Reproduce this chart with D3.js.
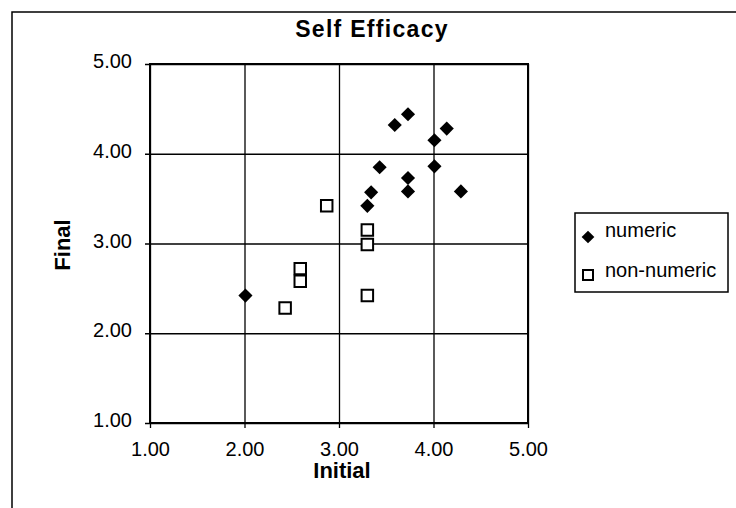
<!DOCTYPE html>
<html>
<head>
<meta charset="utf-8">
<script src="https://cdn.jsdelivr.net/npm/d3@7"></script>
<style>
  html, body { margin: 0; padding: 0; background: #fff; }
  svg { display: block; font-family: "Liberation Sans", Arial, sans-serif; }
  .grid line { stroke: #000; stroke-width: 1.3; }
  .grid text { fill: #000; font-size: 20px; }
  .grid .domain { display: none; }
</style>
</head>
<body>
<div class="d3-scatter"></div>
<script>
// values
var tickValues = [1, 2, 3, 4, 5];
var seriesNames = ['numeric', 'non-numeric'];

var numericInitial = [3.59, 3.73, 4.14, 4.01, 4.01, 3.43, 3.73, 3.73, 4.29, 3.34, 3.30, 2.01];
var numericFinal   = [4.32, 4.44, 4.28, 4.15, 3.86, 3.85, 3.73, 3.58, 3.58, 3.57, 3.42, 2.42];

var nonNumericInitial = [2.87, 3.30, 3.30, 2.59, 2.59, 2.43, 3.30];
var nonNumericFinal   = [3.42, 3.15, 2.99, 2.72, 2.58, 2.28, 2.42];

var margins = { top: 64, left: 150 };
var width = 378;
var height = 359;

var svg = d3.select('.d3-scatter').append('svg')
  .attr('width', 736)
  .attr('height', 508);

// outer chart frame (only top and left edges show in the scan)
svg.append('path')
  .attr('d', 'M12,508 L12,12 L736,12')
  .attr('fill', 'none')
  .attr('stroke', '#000')
  .attr('stroke-width', 1.5);

svg.append('text')
  .attr('x', 372)
  .attr('y', 37)
  .attr('text-anchor', 'middle')
  .style('font-size', '23px')
  .style('font-weight', 'bold')
  .style('letter-spacing', '1.3px')
  .text('Self Efficacy');

var x = d3.scaleLinear().domain([1, 5]).range([0, width]);
var y = d3.scaleLinear().domain([1, 5]).range([height, 0]);
var fmt = d3.format('.2f');

var graph = svg.append('g')
  .attr('transform', 'translate(' + margins.left + ',' + margins.top + ')');

// gridlines double as tick marks, poking 5px outside the plot
var xAxis = d3.axisBottom(x).tickValues(tickValues).tickFormat(fmt)
  .tickSize(height + 5).tickPadding(14);
var yAxis = d3.axisLeft(y).tickValues(tickValues).tickFormat(fmt)
  .tickSize(width + 5).tickPadding(13);

graph.append('g').attr('class', 'grid x-grid').call(xAxis);
graph.append('g').attr('class', 'grid y-grid')
  .attr('transform', 'translate(' + width + ',0)')
  .call(yAxis)
  .selectAll('text').attr('dy', '0.18em');

graph.append('rect')
  .attr('width', width)
  .attr('height', height)
  .attr('fill', 'none')
  .attr('stroke', '#000')
  .attr('stroke-width', 2);

var diamond = d3.symbol().type(d3.symbolSquare).size(100);
var square = d3.symbol().type(d3.symbolSquare).size(132);

graph.selectAll('.numeric').data(numericInitial).enter().append('path')
  .attr('class', 'numeric')
  .attr('d', diamond)
  .attr('transform', function(d, i) {
    return 'translate(' + x(d) + ',' + y(numericFinal[i]) + ') rotate(45)';
  })
  .attr('fill', '#000');

graph.selectAll('.non-numeric').data(nonNumericInitial).enter().append('path')
  .attr('class', 'non-numeric')
  .attr('d', square)
  .attr('transform', function(d, i) {
    return 'translate(' + x(d) + ',' + y(nonNumericFinal[i]) + ')';
  })
  .attr('fill', '#fff')
  .attr('stroke', '#000')
  .attr('stroke-width', 2);

// axis titles
svg.append('text')
  .attr('x', margins.left + x(3) + 3)
  .attr('y', 478)
  .attr('text-anchor', 'middle')
  .style('font-size', '22px')
  .style('font-weight', 'bold')
  .text('Initial');

svg.append('text')
  .attr('transform', 'translate(70,245) rotate(-90)')
  .attr('text-anchor', 'middle')
  .style('font-size', '22px')
  .style('font-weight', 'bold')
  .text('Final');

// legend
var legend = svg.append('g').attr('transform', 'translate(575,213)');
legend.append('rect')
  .attr('width', 153)
  .attr('height', 79)
  .attr('fill', '#fff')
  .attr('stroke', '#000')
  .attr('stroke-width', 1.5);

legend.append('path')
  .attr('d', d3.symbol().type(d3.symbolSquare).size(81))
  .attr('transform', 'translate(13,24) rotate(45)')
  .attr('fill', '#000');
legend.append('path')
  .attr('d', d3.symbol().type(d3.symbolSquare).size(100))
  .attr('transform', 'translate(13,62)')
  .attr('fill', '#fff')
  .attr('stroke', '#000')
  .attr('stroke-width', 2);

legend.selectAll('.label').data(seriesNames).enter().append('text')
  .attr('class', 'label')
  .attr('x', 30)
  .attr('y', function(d, i) { return i === 0 ? 24 : 64; })
  .style('font-size', '20px')
  .text(function(d) { return d; });
</script>
</body>
</html>
